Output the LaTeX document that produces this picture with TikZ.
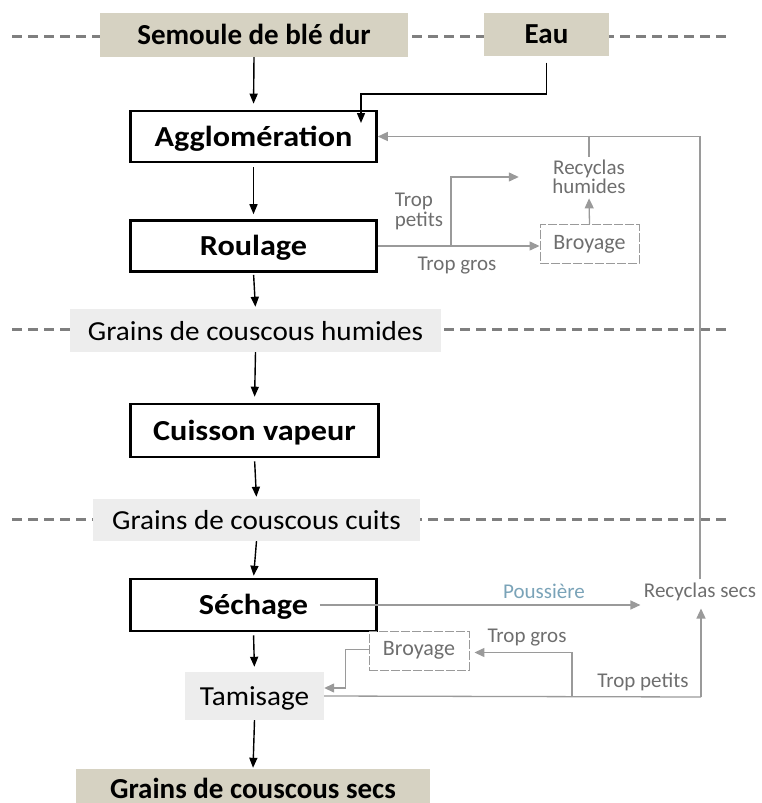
\documentclass[tikz,border=0pt]{standalone}
\usepackage{fontspec}
\setmainfont{Carlito}
\newfontfamily\stepfont{Carlito}[FakeStretch=1.11]
\newfontfamily\regfont{Carlito}[FakeStretch=1.06]
\usetikzlibrary{arrows.meta}
\definecolor{tan}{HTML}{D6D2C2}
\definecolor{lgray}{HTML}{EDEDED}
\definecolor{dgray}{HTML}{7F7F7F}
\definecolor{cgray}{HTML}{9A9A9A}
\definecolor{tgray}{HTML}{6E6E6E}
\definecolor{dust}{HTML}{7AA3B8}
\tikzset{
  big/.style={font=\fontsize{29}{32}\selectfont\bfseries, text height=19pt, text depth=0pt},
  reg/.style={font=\regfont\fontsize{27.5}{32}\selectfont, text height=19pt, text depth=0pt},
  small/.style={font=\fontsize{21}{21}\selectfont, text=tgray},
  input/.style={fill=tan, big, inner sep=0pt},
  stepbox/.style={draw=black, line width=2.6pt, fill=white, big, font=\stepfont\fontsize{29}{32}\selectfont\bfseries, inner sep=0pt},
  prod/.style={fill=lgray, reg, inner sep=0pt},
  grind/.style={draw=cgray, line width=0.9pt, dash pattern=on 9pt off 2pt, small, font=\fontsize{22}{22}\selectfont, inner sep=0pt},
  sep/.style={draw=dgray, line width=3pt, dash pattern=on 10pt off 6pt},
  barrow/.style={draw=black, line width=1.4pt, -{Triangle[length=10pt,width=8pt]}},
  garrow/.style={draw=cgray, line width=1.3pt, -{Triangle[length=10pt,width=9pt]}},
  gline/.style={draw=cgray, line width=1.3pt},
}
\begin{document}
\begin{tikzpicture}[x=1pt,y=-1pt]
\useasboundingbox (0,0) rectangle (762,803);
% separator lines
\draw[sep] (12,36) -- (728,36);
\draw[sep] (12,329) -- (728,329);
\draw[sep] (12,519) -- (728,519);
% main column
\node[input, minimum width=308pt, minimum height=44pt] (sem) at (254,35) {Semoule de blé dur};
\node[input, minimum width=125pt, minimum height=43pt] (eau) at (546.5,34) {Eau};
\node[stepbox, minimum width=246pt, minimum height=51pt] (agglo) at (253.5,136.5) {Agglomération};
\node[stepbox, minimum width=246pt, minimum height=51pt] (roul) at (253.5,246) {Roulage};
\node[prod, minimum width=371pt, minimum height=43pt] (hum) at (255.5,330.5) {Grains de couscous humides};
\node[stepbox, minimum width=248pt, minimum height=53pt] (cuis) at (254.5,430.5) {Cuisson vapeur};
\node[prod, minimum width=327pt, minimum height=42pt] (cuit) at (256.5,520) {Grains de couscous cuits};
\node[stepbox, minimum width=246pt, minimum height=52pt] (sech) at (253.5,605) {Séchage};
\node[prod, minimum width=139pt, minimum height=48pt] (tam) at (254.5,696) {Tamisage};
\node[input, minimum width=354pt, minimum height=34pt, text height=24pt] (secs) at (253,786) {Grains de couscous secs};
% side nodes
\node[small, align=center] (rhum) at (589,177) {Recyclas\\[-2pt]humides};
\node[grind, minimum width=99pt, minimum height=39pt] (broy1) at (589.5,244) {Broyage};
\node[small] (rsecs) at (700,592) {Recyclas secs};
\node[grind, minimum width=100pt, minimum height=39pt] (broy2) at (419,650.5) {Broyage};
% labels
\node[small, align=left] (tp1) at (419,211) {Trop\\[-1pt]petits};
\node[small] (tg1) at (457,266) {Trop gros};
\node[small, text=dust] (pous) at (544,591) {Poussière};
\node[small] (tg2) at (527,638) {Trop gros};
\node[small] (tp2) at (643,682) {Trop petits};
% black arrows
\draw[barrow, shorten >=6pt] (sem.south) -- (agglo.north);
\coordinate (eauturn) at (361,94);
\draw[barrow] ([yshift=-7pt]eau.south) |- (eauturn) -- ++(0,29);
\draw[barrow, shorten <=4pt, shorten >=5pt] (agglo.south) -- (roul.north);
\draw[barrow, shorten <=2pt, shorten >=2pt] (roul.south) -- (hum.north);
\draw[barrow, shorten >=6pt] (hum.south) -- (cuis.north);
\draw[barrow, shorten <=3pt, shorten >=2pt] (cuis.south) -- (cuit.north);
\draw[barrow, shorten >=2pt] (cuit.south) -- (sech.north);
\draw[barrow, shorten <=3pt, shorten >=5pt] (sech.south) -- (tam.north);
\draw[barrow, shorten >=1pt] (tam.south) -- (secs.north);
% gray flows, top
\draw[garrow] (rsecs.north) |- (agglo.east);
\draw[gline] (rhum.north) -- ++(0,-21);
\draw[garrow] (roul.east) -- (roul.east -| broy1.west);
\coordinate (br1) at (451,246);
\draw[garrow, shorten >=30pt] (br1) |- (rhum.west);
\draw[garrow, shorten >=1pt] (broy1.north) -- (rhum.south);
% gray flows, bottom
\draw[garrow] ([xshift=-58pt]sech.east) -- (sech.east -| rsecs.west);
\coordinate (tr1) at (701,697);
\draw[gline] (tam.east) -- (tr1);
\draw[garrow, shorten >=4pt] (tr1) -- (tr1 |- rsecs.south);
\coordinate (br2) at (572,697);
\draw[garrow, shorten >=5pt] (br2) |- ([yshift=-2pt]broy2.east);
\draw[garrow] ([yshift=1pt]broy2.west) -- ++(-23,0) |- ([yshift=8pt]tam.east);
\end{tikzpicture}
\end{document}
